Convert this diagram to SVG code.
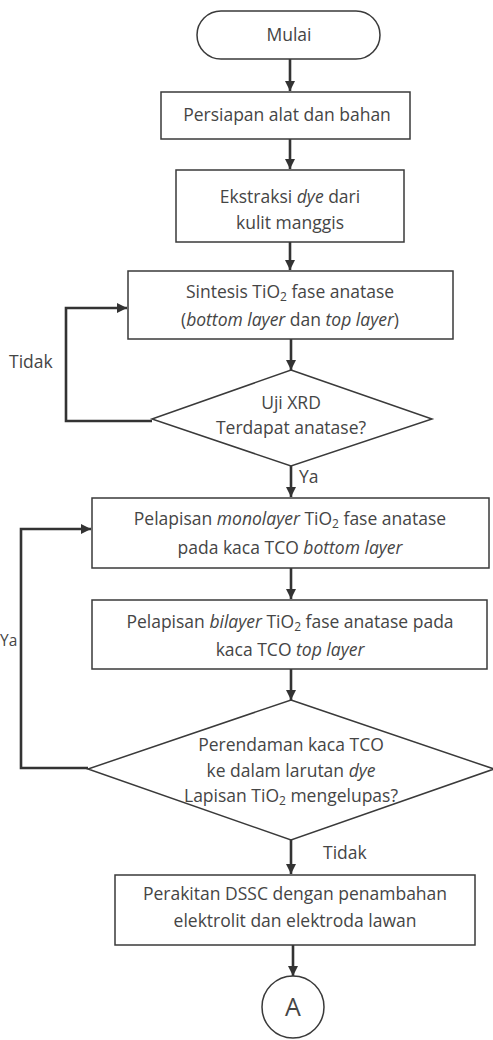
<svg xmlns="http://www.w3.org/2000/svg" width="493" height="1040" viewBox="0 0 493 1040">
<style>
.box{fill:#ffffff;stroke:#3a3a3a;stroke-width:1.5}
.t{font-family:"Open Sans","Noto Sans",sans-serif;font-size:17.5px;fill:#454545;text-anchor:middle}
.lbl{font-family:"Open Sans","Noto Sans",sans-serif;font-size:17.5px;fill:#454545}
.c{fill:none;stroke:#333333;stroke-width:2.6}
.s{font-size:12px}
</style>
<defs>
<marker id="ah" viewBox="0 0 10 10" refX="10" refY="5" markerWidth="4" markerHeight="4" orient="auto" markerUnits="strokeWidth">
<path d="M0,0 L10,5 L0,10 z" fill="#333333"/>
</marker>
</defs>
<rect width="493" height="1040" fill="#ffffff"/>

<g id="connectors">
<line class="c" x1="290" y1="59" x2="290" y2="91" marker-end="url(#ah)"/>
<line class="c" x1="290" y1="139" x2="290" y2="169" marker-end="url(#ah)"/>
<line class="c" x1="290" y1="242" x2="290" y2="270" marker-end="url(#ah)"/>
<line class="c" x1="291" y1="339" x2="291" y2="370" marker-end="url(#ah)"/>
<polyline class="c" points="152,421 66,421 66,308 127,308" marker-end="url(#ah)"/>
<line class="c" x1="291" y1="466" x2="291" y2="497" marker-end="url(#ah)"/>
<line class="c" x1="291" y1="568" x2="291" y2="599" marker-end="url(#ah)"/>
<line class="c" x1="291" y1="669" x2="291" y2="700" marker-end="url(#ah)"/>
<polyline class="c" points="88,768 21,768 21,529 91,529" marker-end="url(#ah)"/>
<line class="c" x1="291" y1="840" x2="291" y2="874" marker-end="url(#ah)"/>
<line class="c" x1="293" y1="945" x2="293" y2="976" marker-end="url(#ah)"/>
<text class="lbl" x="9" y="368">Tidak</text>
<text class="lbl" x="299" y="483">Ya</text>
<text class="lbl" x="0" y="646" style="font-size:15.5px">Ya</text>
<text class="lbl" x="323" y="859">Tidak</text>
</g>

<g id="mulai">
<rect class="box" x="197" y="11" width="183" height="48" rx="24" ry="24"/>
<text class="t" x="289" y="41">Mulai</text>
</g>

<g id="persiapan">
<rect class="box" x="161" y="92" width="249" height="47"/>
<text class="t" x="287" y="121">Persiapan alat dan bahan</text>
</g>

<g id="ekstraksi">
<rect class="box" x="176" y="170" width="228" height="72"/>
<text class="t" x="290" y="203">Ekstraksi <tspan font-style="italic">dye</tspan> dari</text>
<text class="t" x="290" y="229">kulit manggis</text>
</g>

<g id="sintesis">
<rect class="box" x="128" y="271" width="325" height="68"/>
<text class="t" x="290" y="298">Sintesis TiO<tspan class="s" dy="3">2</tspan><tspan dy="-3"> fase anatase</tspan></text>
<text class="t" x="290" y="326">(<tspan font-style="italic">bottom layer</tspan> dan <tspan font-style="italic">top layer</tspan>)</text>
</g>

<g id="uji-xrd">
<polygon class="box" points="291,370 432,419 291,466 152,419"/>
<text class="t" x="291" y="409">Uji XRD</text>
<text class="t" x="291" y="434">Terdapat anatase?</text>
</g>

<g id="monolayer">
<rect class="box" x="92" y="498" width="397" height="70"/>
<text class="t" x="290" y="525">Pelapisan <tspan font-style="italic">monolayer</tspan> TiO<tspan class="s" dy="3">2</tspan><tspan dy="-3"> fase anatase</tspan></text>
<text class="t" x="290" y="554">pada kaca TCO <tspan font-style="italic">bottom layer</tspan></text>
</g>

<g id="bilayer">
<rect class="box" x="92" y="600" width="395" height="69"/>
<text class="t" x="290" y="628">Pelapisan <tspan font-style="italic">bilayer</tspan> TiO<tspan class="s" dy="3">2</tspan><tspan dy="-3"> fase anatase pada</tspan></text>
<text class="t" x="290" y="656">kaca TCO <tspan font-style="italic">top layer</tspan></text>
</g>

<g id="perendaman">
<polygon class="box" points="291,700 494,769 291,840 88,769"/>
<text class="t" x="291" y="751">Perendaman kaca TCO</text>
<text class="t" x="291" y="777">ke dalam larutan <tspan font-style="italic">dye</tspan></text>
<text class="t" x="291" y="802">Lapisan TiO<tspan class="s" dy="3">2</tspan><tspan dy="-3"> mengelupas?</tspan></text>
</g>

<g id="perakitan">
<rect class="box" x="115" y="875" width="360" height="70"/>
<text class="t" x="295" y="900">Perakitan DSSC dengan penambahan</text>
<text class="t" x="295" y="927">elektrolit dan elektroda lawan</text>
</g>

<g id="konektor-a">
<circle class="box" cx="293" cy="1007" r="31"/>
<text class="t" x="293" y="1016" style="font-size:25px">A</text>
</g>
</svg>
